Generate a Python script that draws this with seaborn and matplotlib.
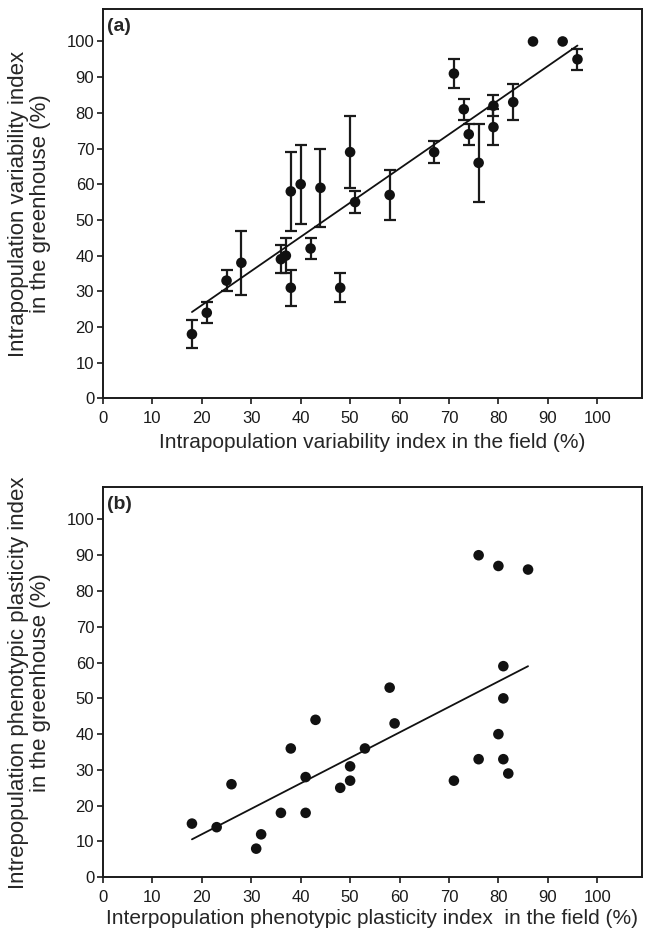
import numpy as np
import pandas as pd
import seaborn as sns
import matplotlib.pyplot as plt

# panel (a): intrapopulation variability index, mean +/- error
a_field = [18, 21, 25, 28, 36, 37, 38, 38, 40, 42, 44, 48, 50, 51, 58,
           67, 71, 73, 74, 76, 79, 79, 83, 87, 93, 96]
a_green = [18, 24, 33, 38, 39, 40, 58, 31, 60, 42, 59, 31, 69, 55, 57,
           69, 91, 81, 74, 66, 82, 76, 83, 100, 100, 95]
a_err = [4, 3, 3, 9, 4, 5, 11, 5, 11, 3, 11, 4, 10, 3, 7,
         3, 4, 3, 3, 11, 3, 5, 5, np.nan, np.nan, 3]

# panel (b): interpopulation phenotypic plasticity index
b_field = [18, 23, 26, 31, 32, 36, 38, 41, 41, 43, 48, 50, 50, 53, 58,
           59, 71, 76, 76, 80, 80, 81, 81, 81, 82, 86]
b_green = [15, 14, 26, 8, 12, 18, 36, 28, 18, 44, 25, 31, 27, 36, 53,
           43, 27, 90, 33, 87, 40, 59, 50, 33, 29, 86]

ticks = list(range(0, 101, 10))

df_a = pd.DataFrame({'field': a_field, 'green': a_green, 'err': a_err})
df_b = pd.DataFrame({'field': b_field, 'green': b_green})

sns.set_style("ticks")
plt.rcParams['font.family'] = ['Liberation Sans', 'DejaVu Sans']
plt.rcParams['axes.linewidth'] = 1.4
plt.rcParams['xtick.major.width'] = 1.2
plt.rcParams['ytick.major.width'] = 1.2
plt.rcParams['xtick.major.size'] = 4.3
plt.rcParams['ytick.major.size'] = 4.3
plt.rcParams['xtick.direction'] = 'out'
plt.rcParams['ytick.direction'] = 'out'

fig = plt.figure(figsize=(6.46, 9.43), dpi=100)
ax1 = fig.add_axes([0.1594, 0.5775, 0.834, 0.4126])
ax2 = fig.add_axes([0.1594, 0.0697, 0.834, 0.4136])

# (a)
e = df_a.dropna()
ax1.errorbar(e['field'], e['green'], yerr=e['err'], fmt='none',
             ecolor='#1a1a1a', elinewidth=1.6, capsize=4, capthick=1.6, zorder=2)
sns.scatterplot(x='field', y='green', data=df_a, ax=ax1, color='#111111',
                s=58, edgecolor='none', zorder=3)
sns.regplot(x='field', y='green', data=df_a, ax=ax1, scatter=False, ci=None,
            color='#111111', line_kws={'linewidth': 1.3, 'zorder': 4})
ax1.set_xlabel('Intrapopulation variability index in the field (%)', fontsize=15, labelpad=5)
ax1.set_ylabel('Intrapopulation variability index\nin the greenhouse (%)', fontsize=16,
               labelpad=11, linespacing=1.05)
ax1.text(0.007, 0.978, '(a)', transform=ax1.transAxes, fontsize=14,
         fontweight='bold', va='top', ha='left')

# (b)
sns.scatterplot(x='field', y='green', data=df_b, ax=ax2, color='#111111',
                s=58, edgecolor='none', zorder=3)
sns.regplot(x='field', y='green', data=df_b, ax=ax2, scatter=False, ci=None,
            color='#111111', line_kws={'linewidth': 1.3, 'zorder': 4})
ax2.set_xlabel('Interpopulation phenotypic plasticity index  in the field (%)', fontsize=15, labelpad=3)
ax2.set_ylabel('Intrepopulation phenotypic plasticity index\nin the greenhouse (%)', fontsize=16,
               labelpad=11, linespacing=1.05)
ax2.text(0.007, 0.978, '(b)', transform=ax2.transAxes, fontsize=14,
         fontweight='bold', va='top', ha='left')

for ax in (ax1, ax2):
    ax.set_xlim(0, 109)
    ax.set_ylim(0, 109)
    ax.set_xticks(ticks)
    ax.set_yticks(ticks)
    ax.tick_params(labelsize=12, colors='#1a1a1a')
    ax.tick_params(axis='x', pad=5)
    ax.tick_params(axis='y', pad=2)
    for sp in ax.spines.values():
        sp.set_color('#1a1a1a')

fig.savefig('out.png', dpi=100)
